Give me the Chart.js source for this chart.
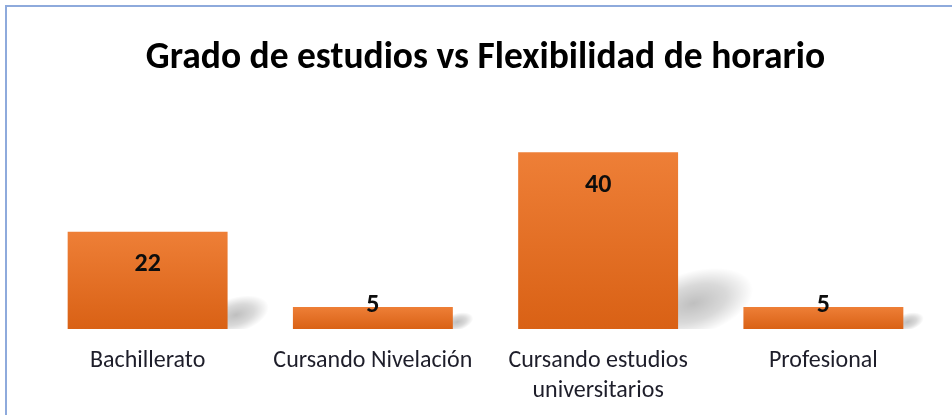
<!DOCTYPE html>
<html>
<head>
<meta charset="utf-8">
<script src="https://cdn.jsdelivr.net/npm/chart.js@4"></script>
<style>
  body { margin: 0; background: #fff; width: 952px; height: 415px; overflow: hidden; position: relative; }
  .marco { position: absolute; left: 5px; top: 5px; width: 960px; height: 420px; border-left: 2px solid #8eaadc; border-top: 2px solid #8eaadc; }
  canvas { position: absolute; left: 0; top: 0; }
</style>
</head>
<body>
<div class="marco"></div>
<canvas id="barChart" width="952" height="415"></canvas>
<script>
const TITULO = 'Grado de estudios vs Flexibilidad de horario';
const CATEGORIAS = ['Bachillerato', 'Cursando Nivelación', ['Cursando estudios', 'universitarios'], 'Profesional'];
const VALORES = [22, 5, 40, 5];
const FUENTE = 'Carlito, Calibri, "Liberation Sans Narrow", sans-serif';

// sombra difusa detrás de cada barra: elipse inclinada con degradado radial
const sombraBarras = {
    id: 'sombraBarras',
    beforeDatasetsDraw(chart) {
        const ctx = chart.ctx;
        const area = chart.chartArea;
        chart.getDatasetMeta(0).data.forEach(bar => {
            const h = bar.base - bar.y;
            const s = Math.max(h * 0.29, 14);
            const xr = bar.x + bar.width / 2;
            ctx.save();
            ctx.beginPath();
            ctx.rect(area.left, area.top, area.right - area.left, bar.base - area.top);
            ctx.clip();
            ctx.translate(xr + s * 0.3, bar.base - s * 0.5);
            ctx.rotate(-0.3);
            ctx.scale(s * 1.2, s * 0.62);
            const g = ctx.createRadialGradient(0, 0, 0, 0, 0, 1);
            g.addColorStop(0, 'rgba(0,0,0,0.25)');
            g.addColorStop(0.55, 'rgba(0,0,0,0.15)');
            g.addColorStop(1, 'rgba(0,0,0,0)');
            ctx.fillStyle = g;
            ctx.beginPath();
            ctx.arc(0, 0, 1, 0, Math.PI * 2);
            ctx.fill();
            ctx.restore();
        });
    }
};

// etiquetas de valor dentro de la barra
const etiquetasValor = {
    id: 'etiquetasValor',
    afterDatasetsDraw(chart) {
        const ctx = chart.ctx;
        const data = chart.data.datasets[0].data;
        ctx.save();
        ctx.font = 'bold 26px ' + FUENTE;
        ctx.fillStyle = '#0d0d0d';
        ctx.textAlign = 'center';
        ctx.textBaseline = 'middle';
        chart.getDatasetMeta(0).data.forEach((bar, i) => {
            const y = Math.min(bar.y + 33, bar.base - 24);
            ctx.fillText(String(data[i]), bar.x, y);
        });
        ctx.restore();
    }
};

function degradado(context) {
    const chart = context.chart;
    const escalaY = chart.scales.y;
    if (!chart.chartArea || !escalaY || context.type !== 'data') return '#e8722a';
    const top = escalaY.getPixelForValue(context.raw);
    const base = escalaY.getPixelForValue(0);
    if (!isFinite(top) || !isFinite(base) || top === base) return '#e8722a';
    const g = chart.ctx.createLinearGradient(0, top, 0, base);
    g.addColorStop(0, '#ee7f37');
    g.addColorStop(1, '#d96115');
    return g;
}

const ctx = document.getElementById('barChart').getContext('2d');
new Chart(ctx, {
    type: 'bar',
    data: {
        labels: CATEGORIAS,
        datasets: [{ data: VALORES, backgroundColor: degradado, borderWidth: 0, categoryPercentage: 1, barPercentage: 0.71 }]
    },
    options: {
        responsive: false,
        animation: false,
        layout: { padding: { left: 35, right: 16, top: 6, bottom: 0 } },
        plugins: {
            legend: { display: false },
            tooltip: { enabled: false },
            title: {
                display: true,
                text: TITULO,
                color: '#000000',
                font: { family: FUENTE, size: 37.5, weight: 'bold' },
                padding: { top: 30, bottom: 27 }
            }
        },
        scales: {
            x: {
                grid: { display: false },
                border: { display: false },
                ticks: { color: '#1e1e2a', font: { family: FUENTE, size: 24, lineHeight: 1.25 }, padding: 9, maxRotation: 0, autoSkip: false }
            },
            y: { display: false, min: 0, max: 50 }
        }
    },
    plugins: [sombraBarras, etiquetasValor]
});
</script>
</body>
</html>
